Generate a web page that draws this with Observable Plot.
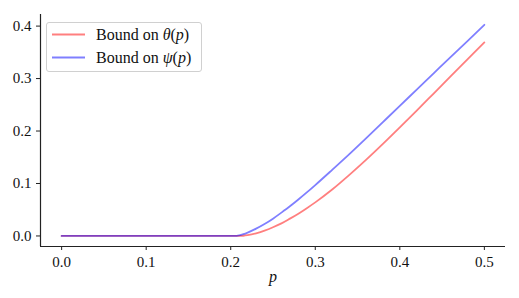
<!DOCTYPE html>
<html>
<head>
<meta charset="utf-8">
<script src="https://cdn.jsdelivr.net/npm/d3@7"></script>
<script src="https://cdn.jsdelivr.net/npm/@observablehq/plot@0.6"></script>
<style>
  html, body { margin: 0; padding: 0; background: #fff; }
  #wrap { position: relative; width: 519px; height: 298px; font-family: "Liberation Serif", "DejaVu Serif", serif; }
  #legend { position: absolute; left: 46px; top: 22px; width: 156px; height: 50px; border: 1px solid #d0d0d0; border-radius: 3px; background: rgba(255,255,255,0.85); box-sizing: border-box; }
  .row { position: absolute; left: 0; height: 20px; width: 100%; }
  .row svg { position: absolute; left: 5px; top: 0; }
  .row span { position: absolute; left: 49px; top: 0px; font-size: 16px; line-height: 19px; color: #111; white-space: nowrap; }
  i { font-style: italic; }
</style>
</head>
<body>
<div id="wrap"></div>
<script>
// Data
const pValues = [0, 0.1, 0.2, 0.205, 0.21, 0.215, 0.22, 0.23, 0.24, 0.25, 0.26, 0.27, 0.28, 0.29, 0.30, 0.32, 0.34, 0.36, 0.38, 0.40, 0.42, 0.44, 0.46, 0.48, 0.50];
const thetaBound = [0, 0, 0, 0, 0, 0.0004, 0.0015, 0.0050, 0.0100, 0.0165, 0.0240, 0.0330, 0.0425, 0.0530, 0.0640, 0.0885, 0.1160, 0.1450, 0.1755, 0.2070, 0.2390, 0.2715, 0.3040, 0.3365, 0.3690];
const psiBound = [0, 0, 0, 0, 0.0012, 0.0035, 0.0065, 0.0140, 0.0228, 0.0330, 0.0445, 0.0565, 0.0695, 0.0830, 0.0970, 0.1260, 0.1555, 0.1860, 0.2170, 0.2480, 0.2790, 0.3100, 0.3410, 0.3715, 0.4025];
const seriesNames = ["θ", "ψ"];
const seriesColors = ["red", "blue"];
const xTicks = [0, 0.1, 0.2, 0.3, 0.4, 0.5];
const yTicks = [0, 0.1, 0.2, 0.3, 0.4];
const xDomain = [-0.025, 0.525];
const yDomain = [-0.0201, 0.4221];
const xLabel = "p";

const rows = [];
pValues.forEach((p, i) => {
  rows.push({p, v: thetaBound[i], s: seriesNames[0]});
});
pValues.forEach((p, i) => {
  rows.push({p, v: psiBound[i], s: seriesNames[1]});
});

const axisColor = "#222";
const serif = "Liberation Serif";
const chart = Plot.plot({
  width: 519,
  height: 298,
  marginLeft: 40,
  marginRight: 14,
  marginTop: 14,
  marginBottom: 52,
  style: "font-family: 'Liberation Serif', serif; font-size: 15px; color: #111; background: transparent;",
  x: { domain: xDomain },
  y: { domain: yDomain },
  marks: [
    Plot.axisX({ ticks: xTicks, tickFormat: d => d.toFixed(1), tickSize: 4, tickPadding: 6, label: null, stroke: axisColor, fontSize: 15, fontFamily: serif }),
    Plot.axisY({ ticks: yTicks, tickFormat: d => d.toFixed(1), tickSize: 4, tickPadding: 5, label: null, stroke: axisColor, fontSize: 15, fontFamily: serif }),
    Plot.ruleX([xDomain[0]], { stroke: axisColor, strokeWidth: 1.2 }),
    Plot.ruleY([yDomain[0]], { stroke: axisColor, strokeWidth: 1.2 }),
    Plot.line(rows.filter(d => d.s === seriesNames[0]), { x: "p", y: "v", stroke: seriesColors[0], strokeOpacity: 0.5, strokeWidth: 1.8, curve: "monotone-x" }),
    Plot.line(rows.filter(d => d.s === seriesNames[1]), { x: "p", y: "v", stroke: seriesColors[1], strokeOpacity: 0.5, strokeWidth: 1.8, curve: "monotone-x" }),
    Plot.text([xLabel], { text: d => d, frameAnchor: "bottom", dy: 35, fontStyle: "italic", fontSize: 16, fill: "#111", fontFamily: serif })
  ]
});

const wrap = document.getElementById("wrap");
wrap.appendChild(chart);

const legend = document.createElement("div");
legend.id = "legend";
seriesNames.forEach((name, i) => {
  const row = document.createElement("div");
  row.className = "row";
  row.style.top = (i === 0 ? 2 : 25) + "px";
  row.innerHTML = `<svg width="34" height="20"><line x1="0" x2="33" y1="9.5" y2="9.5" stroke="${seriesColors[i]}" stroke-opacity="0.5" stroke-width="1.8"/></svg><span>Bound on <i>${name}</i>(<i>p</i>)</span>`;
  legend.appendChild(row);
});
wrap.appendChild(legend);
</script>
</body>
</html>
